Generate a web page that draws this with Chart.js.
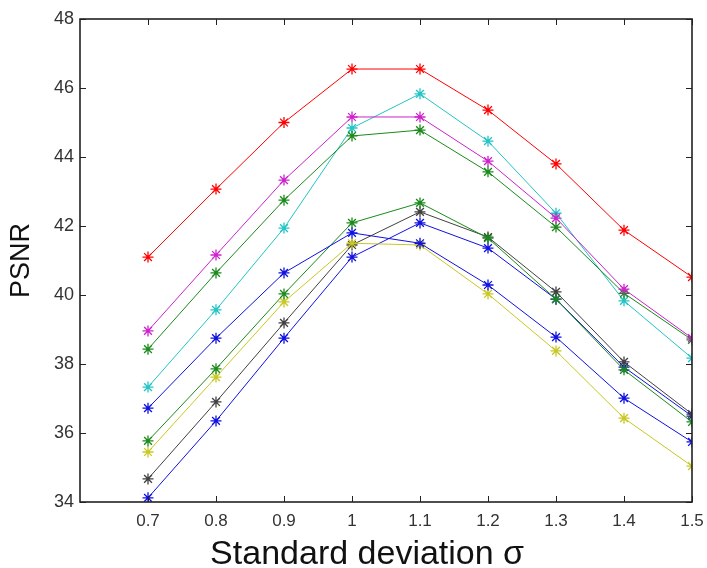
<!DOCTYPE html>
<html>
<head>
<meta charset="utf-8">
<title>PSNR vs standard deviation</title>
<script src="https://cdn.jsdelivr.net/npm/chart.js@4.4.0/dist/chart.umd.min.js"></script>
<style>
  html, body { margin: 0; padding: 0; background: #fff; }
  #wrap { width: 707px; height: 568px; }
</style>
</head>
<body>
<div id="wrap"><canvas id="chart" width="707" height="568"></canvas></div>
<script>
// ── Data ───────────────────────────────────────────────────
const sigma   = [0.7, 0.8, 0.9, 1.0, 1.1, 1.2, 1.3, 1.4, 1.5];
const xTicks  = [0.7, 0.8, 0.9, 1.0, 1.1, 1.2, 1.3, 1.4, 1.5];
const yTicks  = [34, 36, 38, 40, 42, 44, 46, 48];

const red     = [41.10, 43.07, 45.00, 46.55, 46.55, 45.36, 43.80, 41.88, 40.52];
const magenta = [38.96, 41.16, 43.33, 45.16, 45.16, 43.88, 42.23, 40.17, 38.75];
const green1  = [38.43, 40.64, 42.75, 44.61, 44.78, 43.57, 41.97, 40.05, 38.70];
const cyan    = [37.33, 39.57, 41.94, 44.84, 45.83, 44.46, 42.37, 39.83, 38.17];
const blue1   = [36.72, 38.75, 40.64, 41.80, 41.50, 40.29, 38.78, 37.01, 35.74];
const green2  = [35.77, 37.86, 40.03, 42.09, 42.67, 41.65, 39.88, 37.83, 36.32];
const yellow  = [35.45, 37.62, 39.80, 41.50, 41.45, 40.03, 38.38, 36.43, 35.04];
const gray    = [34.67, 36.90, 39.19, 41.45, 42.41, 41.68, 40.09, 38.06, 36.55];
const blue2   = [34.12, 36.35, 38.75, 41.10, 42.09, 41.36, 39.88, 37.91, 36.49];

// ── Helpers ────────────────────────────────────────────────
const FONT = "'Liberation Sans', Arial, sans-serif";
const pts  = (ys) => sigma.map((x, i) => ({ x, y: ys[i] }));

function series(data, color) {
  return {
    data: pts(data),
    borderColor: color,
    backgroundColor: color,
    borderWidth: 1,
    pointStyle: 'star',
    pointRadius: 5.5,
    pointBorderWidth: 1.3,
    pointBorderColor: color,
    tension: 0,
  };
}

// ── MATLAB-style box with inward ticks ─────────────────────
const boxAxes = {
  id: 'boxAxes',
  afterDraw(chart) {
    const { ctx, chartArea: a, scales: { x, y } } = chart;
    const len = 6;
    ctx.save();
    ctx.strokeStyle = '#222';
    ctx.lineWidth = 1;
    ctx.beginPath();
    xTicks.forEach(v => {
      const px = Math.round(x.getPixelForValue(v)) + 0.5;
      ctx.moveTo(px, a.bottom); ctx.lineTo(px, a.bottom - len);
      ctx.moveTo(px, a.top);    ctx.lineTo(px, a.top + len);
    });
    yTicks.forEach(v => {
      const py = Math.round(y.getPixelForValue(v)) + 0.5;
      ctx.moveTo(a.left, py);  ctx.lineTo(a.left + len, py);
      ctx.moveTo(a.right, py); ctx.lineTo(a.right - len, py);
    });
    ctx.stroke();
    ctx.lineWidth = 1.6;
    ctx.strokeRect(a.left, a.top, a.right - a.left, a.bottom - a.top);
    ctx.restore();
  }
};

// ── Chart ──────────────────────────────────────────────────
new Chart(document.getElementById('chart').getContext('2d'), {
  type: 'line',
  data: {
    datasets: [
      series(red,     '#ff0000'),
      series(magenta, '#cc22cc'),
      series(green1,  '#1a8a1a'),
      series(cyan,    '#22c4c4'),
      series(blue1,   '#1010e0'),
      series(green2,  '#1a8a1a'),
      series(yellow,  '#c8c820'),
      series(gray,    '#404040'),
      series(blue2,   '#1010e0'),
    ]
  },
  options: {
    responsive: false,
    animation: false,
    layout: { padding: { top: 19, right: 15, left: 0, bottom: 0 } },
    plugins: { legend: { display: false }, tooltip: { enabled: false } },
    scales: {
      x: {
        type: 'linear', min: 0.6, max: 1.5,
        afterBuildTicks: (s) => { s.ticks = xTicks.map(v => ({ value: v })); },
        afterFit: (s) => { s.height = 66; s.paddingLeft = 0; s.paddingRight = 0; },
        grid: { display: false, drawTicks: false },
        border: { display: false },
        ticks: { color: '#333', padding: 9, font: { family: FONT, size: 17 }, callback: (v) => String(v) },
        // trailing spaces nudge the centred title left, as in the figure
        title: { display: true, text: 'Standard deviation σ    ', color: '#111', padding: 0,
                 font: { family: FONT, size: 34, lineHeight: 0.8 } },
      },
      y: {
        min: 34, max: 48,
        afterBuildTicks: (s) => { s.ticks = yTicks.map(v => ({ value: v })); },
        afterFit: (s) => { s.width = 80; s.paddingTop = 0; s.paddingBottom = 0; },
        grid: { display: false, drawTicks: false },
        border: { display: false },
        ticks: { color: '#333', padding: 6, font: { family: FONT, size: 18 } },
        title: { display: true, text: 'PSNR', color: '#111', padding: { top: 7, bottom: 0 },
                 font: { family: FONT, size: 27, lineHeight: 1.1 } },
      }
    }
  },
  plugins: [boxAxes]
});
</script>
</body>
</html>
